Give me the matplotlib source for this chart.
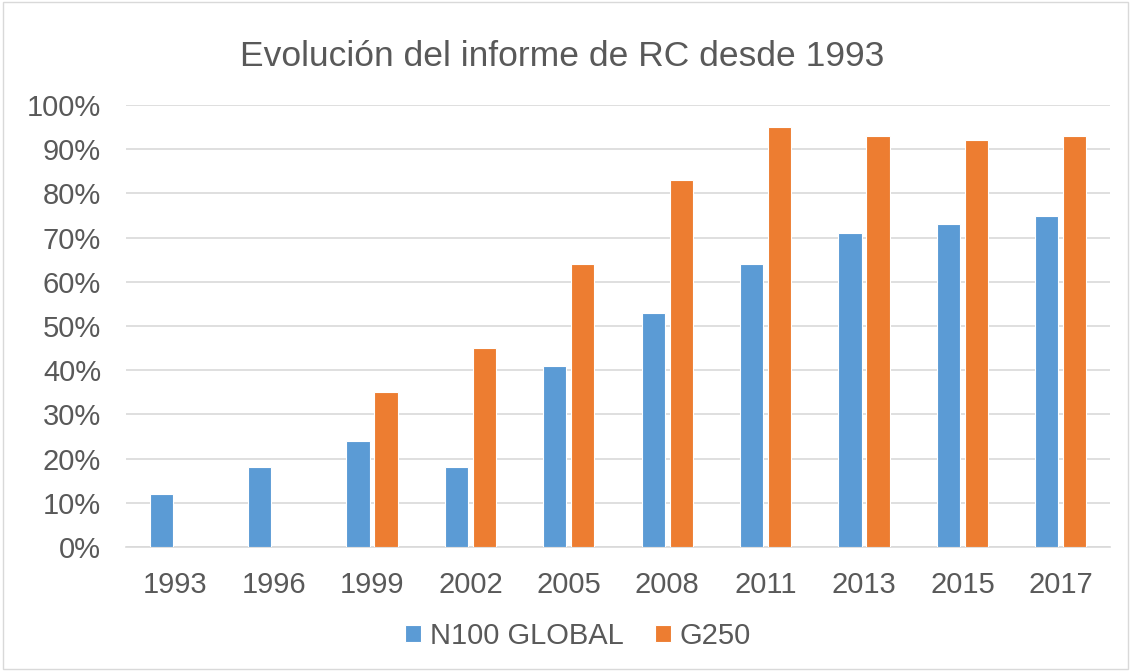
import matplotlib.pyplot as plt
import numpy as np

years = ["1993", "1996", "1999", "2002", "2005", "2008", "2011", "2013", "2015", "2017"]
n100 = [12, 18, 24, 18, 41, 53, 64, 71, 73, 75]
g250 = [None, None, 35, 45, 64, 83, 95, 93, 92, 93]

plt.rcParams["font.family"] = ["Liberation Sans", "DejaVu Sans"]
text_col = "#595959"

fig = plt.figure(figsize=(11.31, 6.71), dpi=100)
ax = fig.add_axes([126 / 1131, 1 - 547 / 671, (1110 - 126) / 1131, (547 - 105) / 671])

x = np.arange(len(years))
w = 0.235
gap = 0.05
n_vals = np.array(n100, dtype=float)
g_vals = np.array([np.nan if v is None else v for v in g250], dtype=float)
ax.bar(x - w / 2 - gap / 2, n_vals, w, color="#5B9BD5", edgecolor="white", linewidth=0.8,
       label="N100 GLOBAL", zorder=3)
ax.bar(x + w / 2 + gap / 2, g_vals, w, color="#ED7D31", edgecolor="white", linewidth=0.8,
       label="G250", zorder=3)

ax.set_xlim(-0.5, len(years) - 0.5)
ax.set_ylim(0, 100)
ax.set_yticks(range(0, 101, 10))
ax.set_yticklabels([f"{v}%" for v in range(0, 101, 10)])
ax.set_xticks(x)
ax.set_xticklabels(years)
ax.grid(axis="y", color="#D9D9D9", linewidth=1.2, zorder=0)
for s in ["top", "right", "left"]:
    ax.spines[s].set_visible(False)
ax.spines["bottom"].set_color("#D9D9D9")
ax.spines["bottom"].set_linewidth(1.2)
ax.tick_params(axis="both", length=0, labelsize=21, colors=text_col)
ax.tick_params(axis="y", pad=18)
ax.tick_params(axis="x", pad=17)

fig.text(0.497, 1 - 57 / 671, "Evolución del informe de RC desde 1993",
         ha="center", va="center", fontsize=25.5, color=text_col)

leg = fig.legend(loc="center", bbox_to_anchor=(578 / 1131, 1 - 636 / 671), ncol=2, frameon=False,
                 fontsize=21, handlelength=0.55, handleheight=0.55, columnspacing=1.05,
                 handletextpad=0.3)
for t in leg.get_texts():
    t.set_color(text_col)

fig.patches.append(plt.Rectangle((0.003, 0.003), 0.994, 0.994, transform=fig.transFigure,
                                 fill=False, edgecolor="#D9D9D9", linewidth=1))

fig.savefig("out.png", dpi=100)
